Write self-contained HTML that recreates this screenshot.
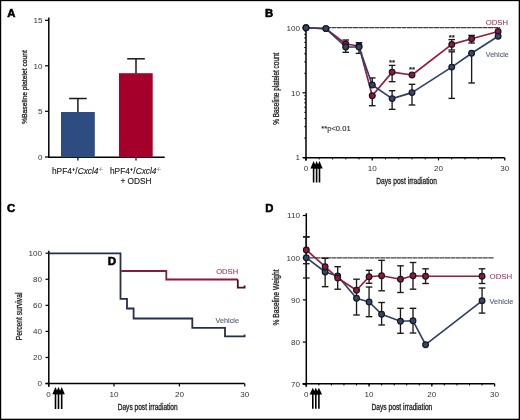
<!DOCTYPE html>
<html><head><meta charset="utf-8"><style>
html,body{margin:0;padding:0;background:#fff;}
svg{display:block;font-family:"Liberation Sans", sans-serif;will-change:transform;filter:blur(0.3px);}
</style></head><body>
<svg width="520" height="420" viewBox="0 0 520 420">
<rect width="520" height="420" fill="#fff"/>
<rect x="0" y="0" width="520" height="1.15" fill="#000"/>
<rect x="0" y="0" width="1.2" height="420" fill="#000"/>
<rect x="518.7" y="0" width="1.3" height="420" fill="#000"/>
<rect x="0" y="418.7" width="520" height="1.3" fill="#000"/>
<text x="7.30" y="16.70" font-size="11.3" text-anchor="start" fill="#000" font-weight="bold" stroke="#000" stroke-width="0.55" >A</text>
<line x1="48.80" y1="17.50" x2="48.80" y2="158.00" stroke="#000" stroke-width="1.5" />
<line x1="45.00" y1="20.30" x2="48.80" y2="20.30" stroke="#000" stroke-width="1.2" />
<text x="42.60" y="23.10" font-size="8.1" text-anchor="end" fill="#333" font-weight="normal" >15</text>
<line x1="45.00" y1="65.80" x2="48.80" y2="65.80" stroke="#000" stroke-width="1.2" />
<text x="42.60" y="68.60" font-size="8.1" text-anchor="end" fill="#333" font-weight="normal" >10</text>
<line x1="45.00" y1="111.30" x2="48.80" y2="111.30" stroke="#000" stroke-width="1.2" />
<text x="42.60" y="114.10" font-size="8.1" text-anchor="end" fill="#333" font-weight="normal" >5</text>
<line x1="45.00" y1="157.00" x2="48.80" y2="157.00" stroke="#000" stroke-width="1.2" />
<text x="42.60" y="159.80" font-size="8.1" text-anchor="end" fill="#333" font-weight="normal" >0</text>
<line x1="48.05" y1="157.30" x2="164.70" y2="157.30" stroke="#000" stroke-width="1.5" />
<line x1="77.90" y1="157.30" x2="77.90" y2="160.40" stroke="#000" stroke-width="1.2" />
<line x1="136.00" y1="157.30" x2="136.00" y2="160.40" stroke="#000" stroke-width="1.2" />
<rect x="61" y="112" width="33.8" height="45.3" fill="#2d4c80"/>
<rect x="119" y="73.2" width="33.7" height="84.1" fill="#a5002b"/>
<line x1="77.90" y1="112.00" x2="77.90" y2="98.50" stroke="#1a1a1a" stroke-width="1.5" />
<line x1="69.10" y1="98.50" x2="86.70" y2="98.50" stroke="#1a1a1a" stroke-width="1.5" />
<line x1="136.00" y1="73.20" x2="136.00" y2="58.80" stroke="#1a1a1a" stroke-width="1.5" />
<line x1="127.20" y1="58.80" x2="144.80" y2="58.80" stroke="#1a1a1a" stroke-width="1.5" />
<text x="52" y="174" font-size="8.3" fill="#222" stroke="#222" stroke-width="0.15">hPF4<tspan font-size="6" font-weight="bold" dy="-2.8">+</tspan><tspan dy="2.8">/</tspan><tspan font-style="italic">Cxcl4</tspan><tspan font-size="4.6" dy="-3.2" stroke-width="0">-/-</tspan></text>
<text x="110" y="174" font-size="8.3" fill="#222" stroke="#222" stroke-width="0.15">hPF4<tspan font-size="6" font-weight="bold" dy="-2.8">+</tspan><tspan dy="2.8">/</tspan><tspan font-style="italic">Cxcl4</tspan><tspan font-size="4.6" dy="-3.2" stroke-width="0">-/-</tspan></text>
<text x="136.00" y="184.00" font-size="8.3" text-anchor="middle" fill="#222" font-weight="normal" stroke="#222" stroke-width="0.15" >+ ODSH</text>
<text transform="translate(26.8,124) rotate(-90)" font-size="7.9" fill="#222" stroke="#222" stroke-width="0.3" textLength="74" lengthAdjust="spacingAndGlyphs">%Baseline platelet count</text>
<text x="265.00" y="16.80" font-size="11.3" text-anchor="start" fill="#000" font-weight="bold" stroke="#000" stroke-width="0.55" >B</text>
<line x1="306.00" y1="27.50" x2="306.00" y2="160.40" stroke="#000" stroke-width="1.5" />
<line x1="302.50" y1="28.00" x2="306.00" y2="28.00" stroke="#000" stroke-width="1.2" />
<line x1="302.50" y1="92.80" x2="306.00" y2="92.80" stroke="#000" stroke-width="1.2" />
<line x1="302.50" y1="157.60" x2="306.00" y2="157.60" stroke="#000" stroke-width="1.2" />
<line x1="304.20" y1="138.09" x2="306.00" y2="138.09" stroke="#000" stroke-width="0.9" />
<line x1="304.20" y1="126.68" x2="306.00" y2="126.68" stroke="#000" stroke-width="0.9" />
<line x1="304.20" y1="118.59" x2="306.00" y2="118.59" stroke="#000" stroke-width="0.9" />
<line x1="304.20" y1="112.31" x2="306.00" y2="112.31" stroke="#000" stroke-width="0.9" />
<line x1="304.20" y1="107.18" x2="306.00" y2="107.18" stroke="#000" stroke-width="0.9" />
<line x1="304.20" y1="102.84" x2="306.00" y2="102.84" stroke="#000" stroke-width="0.9" />
<line x1="304.20" y1="99.08" x2="306.00" y2="99.08" stroke="#000" stroke-width="0.9" />
<line x1="304.20" y1="95.77" x2="306.00" y2="95.77" stroke="#000" stroke-width="0.9" />
<line x1="304.20" y1="73.29" x2="306.00" y2="73.29" stroke="#000" stroke-width="0.9" />
<line x1="304.20" y1="61.88" x2="306.00" y2="61.88" stroke="#000" stroke-width="0.9" />
<line x1="304.20" y1="53.79" x2="306.00" y2="53.79" stroke="#000" stroke-width="0.9" />
<line x1="304.20" y1="47.51" x2="306.00" y2="47.51" stroke="#000" stroke-width="0.9" />
<line x1="304.20" y1="42.38" x2="306.00" y2="42.38" stroke="#000" stroke-width="0.9" />
<line x1="304.20" y1="38.04" x2="306.00" y2="38.04" stroke="#000" stroke-width="0.9" />
<line x1="304.20" y1="34.28" x2="306.00" y2="34.28" stroke="#000" stroke-width="0.9" />
<line x1="304.20" y1="30.97" x2="306.00" y2="30.97" stroke="#000" stroke-width="0.9" />
<text x="300.00" y="30.80" font-size="8.1" text-anchor="end" fill="#333" font-weight="normal" >100</text>
<text x="300.00" y="95.60" font-size="8.1" text-anchor="end" fill="#333" font-weight="normal" >10</text>
<text x="300.00" y="160.40" font-size="8.1" text-anchor="end" fill="#333" font-weight="normal" >1</text>
<line x1="303.20" y1="157.70" x2="504.60" y2="157.70" stroke="#000" stroke-width="1.5" />
<line x1="306.00" y1="157.70" x2="306.00" y2="159.40" stroke="#000" stroke-width="1.0" />
<line x1="319.25" y1="157.70" x2="319.25" y2="159.40" stroke="#000" stroke-width="1.0" />
<line x1="332.50" y1="157.70" x2="332.50" y2="159.40" stroke="#000" stroke-width="1.0" />
<line x1="345.75" y1="157.70" x2="345.75" y2="159.40" stroke="#000" stroke-width="1.0" />
<line x1="359.00" y1="157.70" x2="359.00" y2="159.40" stroke="#000" stroke-width="1.0" />
<line x1="372.25" y1="157.70" x2="372.25" y2="159.40" stroke="#000" stroke-width="1.0" />
<line x1="385.50" y1="157.70" x2="385.50" y2="159.40" stroke="#000" stroke-width="1.0" />
<line x1="398.75" y1="157.70" x2="398.75" y2="159.40" stroke="#000" stroke-width="1.0" />
<line x1="412.00" y1="157.70" x2="412.00" y2="159.40" stroke="#000" stroke-width="1.0" />
<line x1="425.25" y1="157.70" x2="425.25" y2="159.40" stroke="#000" stroke-width="1.0" />
<line x1="438.50" y1="157.70" x2="438.50" y2="159.40" stroke="#000" stroke-width="1.0" />
<line x1="451.75" y1="157.70" x2="451.75" y2="159.40" stroke="#000" stroke-width="1.0" />
<line x1="465.00" y1="157.70" x2="465.00" y2="159.40" stroke="#000" stroke-width="1.0" />
<line x1="478.25" y1="157.70" x2="478.25" y2="159.40" stroke="#000" stroke-width="1.0" />
<line x1="491.50" y1="157.70" x2="491.50" y2="159.40" stroke="#000" stroke-width="1.0" />
<line x1="504.75" y1="157.70" x2="504.75" y2="159.40" stroke="#000" stroke-width="1.0" />
<line x1="306.00" y1="157.70" x2="306.00" y2="160.40" stroke="#000" stroke-width="1.2" />
<text x="306.00" y="170.90" font-size="8.1" text-anchor="middle" fill="#333" font-weight="normal" >0</text>
<line x1="372.25" y1="157.70" x2="372.25" y2="160.40" stroke="#000" stroke-width="1.2" />
<text x="372.25" y="170.90" font-size="8.1" text-anchor="middle" fill="#333" font-weight="normal" >10</text>
<line x1="438.50" y1="157.70" x2="438.50" y2="160.40" stroke="#000" stroke-width="1.2" />
<text x="438.50" y="170.90" font-size="8.1" text-anchor="middle" fill="#333" font-weight="normal" >20</text>
<line x1="504.75" y1="157.70" x2="504.75" y2="160.40" stroke="#000" stroke-width="1.2" />
<text x="504.75" y="170.90" font-size="8.1" text-anchor="middle" fill="#333" font-weight="normal" >30</text>
<line x1="326" y1="27.6" x2="500" y2="27.6" stroke="#404040" stroke-width="1.35" stroke-dasharray="5,0.4"/>
<path d="M313.6,161 L316.8,168.6 L310.40000000000003,168.6 Z" fill="#000"/>
<line x1="313.60" y1="167.60" x2="313.60" y2="182.50" stroke="#000" stroke-width="1.6" />
<path d="M316.6,161 L319.8,168.6 L313.40000000000003,168.6 Z" fill="#000"/>
<line x1="316.60" y1="167.60" x2="316.60" y2="182.50" stroke="#000" stroke-width="1.6" />
<path d="M319.5,161 L322.7,168.6 L316.3,168.6 Z" fill="#000"/>
<line x1="319.50" y1="167.60" x2="319.50" y2="182.50" stroke="#000" stroke-width="1.6" />
<text x="376.20" y="183.50" font-size="8.4" text-anchor="start" fill="#222" font-weight="normal" textLength="60.7" lengthAdjust="spacingAndGlyphs" stroke="#222" stroke-width="0.3" >Days post irradiation</text>
<text transform="translate(279.1,124.7) rotate(-90)" font-size="8.2" fill="#222" stroke="#222" stroke-width="0.3" textLength="72" lengthAdjust="spacingAndGlyphs">% Baseline platelet count</text>
<text x="321.30" y="131.10" font-size="7.6" text-anchor="start" fill="#222" font-weight="normal" stroke="#222" stroke-width="0.1" >**p&lt;0.01</text>
<text x="485.80" y="24.90" font-size="7.9" text-anchor="start" fill="#a04468" font-weight="normal" textLength="22.2" lengthAdjust="spacingAndGlyphs" stroke="#a04468" stroke-width="0.12" >ODSH</text>
<text x="485.80" y="56.70" font-size="7.9" text-anchor="start" fill="#566078" font-weight="normal" textLength="23" lengthAdjust="spacingAndGlyphs" stroke="#566078" stroke-width="0.12" >Vehicle</text>
<line x1="345.75" y1="47.00" x2="345.75" y2="52.30" stroke="#1a1a1a" stroke-width="1.35" />
<line x1="342.45" y1="47.00" x2="349.05" y2="47.00" stroke="#1a1a1a" stroke-width="1.35" />
<line x1="342.45" y1="52.30" x2="349.05" y2="52.30" stroke="#1a1a1a" stroke-width="1.35" />
<line x1="359.00" y1="42.70" x2="359.00" y2="53.40" stroke="#1a1a1a" stroke-width="1.35" />
<line x1="355.70" y1="42.70" x2="362.30" y2="42.70" stroke="#1a1a1a" stroke-width="1.35" />
<line x1="355.70" y1="53.40" x2="362.30" y2="53.40" stroke="#1a1a1a" stroke-width="1.35" />
<line x1="372.25" y1="77.90" x2="372.25" y2="85.00" stroke="#1a1a1a" stroke-width="1.35" />
<line x1="368.95" y1="77.90" x2="375.55" y2="77.90" stroke="#1a1a1a" stroke-width="1.35" />
<line x1="368.95" y1="85.00" x2="375.55" y2="85.00" stroke="#1a1a1a" stroke-width="1.35" />
<line x1="392.12" y1="90.70" x2="392.12" y2="109.30" stroke="#1a1a1a" stroke-width="1.35" />
<line x1="388.82" y1="90.70" x2="395.43" y2="90.70" stroke="#1a1a1a" stroke-width="1.35" />
<line x1="388.82" y1="109.30" x2="395.43" y2="109.30" stroke="#1a1a1a" stroke-width="1.35" />
<line x1="412.00" y1="84.30" x2="412.00" y2="105.00" stroke="#1a1a1a" stroke-width="1.35" />
<line x1="408.70" y1="84.30" x2="415.30" y2="84.30" stroke="#1a1a1a" stroke-width="1.35" />
<line x1="408.70" y1="105.00" x2="415.30" y2="105.00" stroke="#1a1a1a" stroke-width="1.35" />
<line x1="451.75" y1="51.80" x2="451.75" y2="98.40" stroke="#1a1a1a" stroke-width="1.35" />
<line x1="448.45" y1="51.80" x2="455.05" y2="51.80" stroke="#1a1a1a" stroke-width="1.35" />
<line x1="448.45" y1="98.40" x2="455.05" y2="98.40" stroke="#1a1a1a" stroke-width="1.35" />
<line x1="471.62" y1="53.30" x2="471.62" y2="83.00" stroke="#1a1a1a" stroke-width="1.35" />
<line x1="468.32" y1="53.30" x2="474.93" y2="53.30" stroke="#1a1a1a" stroke-width="1.35" />
<line x1="468.32" y1="83.00" x2="474.93" y2="83.00" stroke="#1a1a1a" stroke-width="1.35" />
<line x1="345.75" y1="40.00" x2="345.75" y2="44.00" stroke="#1a1a1a" stroke-width="1.35" />
<line x1="342.45" y1="40.00" x2="349.05" y2="40.00" stroke="#1a1a1a" stroke-width="1.35" />
<line x1="342.45" y1="44.00" x2="349.05" y2="44.00" stroke="#1a1a1a" stroke-width="1.35" />
<line x1="372.25" y1="95.70" x2="372.25" y2="105.70" stroke="#1a1a1a" stroke-width="1.35" />
<line x1="368.95" y1="95.70" x2="375.55" y2="95.70" stroke="#1a1a1a" stroke-width="1.35" />
<line x1="368.95" y1="105.70" x2="375.55" y2="105.70" stroke="#1a1a1a" stroke-width="1.35" />
<line x1="392.12" y1="65.40" x2="392.12" y2="81.70" stroke="#1a1a1a" stroke-width="1.35" />
<line x1="388.82" y1="65.40" x2="395.43" y2="65.40" stroke="#1a1a1a" stroke-width="1.35" />
<line x1="388.82" y1="81.70" x2="395.43" y2="81.70" stroke="#1a1a1a" stroke-width="1.35" />
<line x1="451.75" y1="39.60" x2="451.75" y2="50.00" stroke="#1a1a1a" stroke-width="1.35" />
<line x1="448.45" y1="39.60" x2="455.05" y2="39.60" stroke="#1a1a1a" stroke-width="1.35" />
<line x1="448.45" y1="50.00" x2="455.05" y2="50.00" stroke="#1a1a1a" stroke-width="1.35" />
<line x1="471.62" y1="35.40" x2="471.62" y2="43.00" stroke="#1a1a1a" stroke-width="1.35" />
<line x1="468.32" y1="35.40" x2="474.93" y2="35.40" stroke="#1a1a1a" stroke-width="1.35" />
<line x1="468.32" y1="43.00" x2="474.93" y2="43.00" stroke="#1a1a1a" stroke-width="1.35" />
<polyline points="306.00,27.70 325.88,28.60 345.75,44.00 359.00,46.00 372.25,95.70 392.12,72.10 412.00,75.00 451.75,44.40 471.62,38.80 498.12,31.50" fill="none" stroke="#961a3c" stroke-width="1.65" stroke-linejoin="round"/>
<polyline points="306.00,27.70 325.88,28.60 345.75,47.00 359.00,47.00 372.25,85.00 392.12,98.60 412.00,92.60 451.75,67.10 471.62,53.30 498.12,36.20" fill="none" stroke="#2c4068" stroke-width="1.65" stroke-linejoin="round"/>
<circle cx="306.00" cy="27.70" r="2.85" fill="#921838" stroke="#16161e" stroke-width="1.2"/>
<circle cx="325.88" cy="28.60" r="2.85" fill="#921838" stroke="#16161e" stroke-width="1.2"/>
<circle cx="345.75" cy="44.00" r="2.85" fill="#921838" stroke="#16161e" stroke-width="1.2"/>
<circle cx="359.00" cy="46.00" r="2.85" fill="#921838" stroke="#16161e" stroke-width="1.2"/>
<circle cx="372.25" cy="95.70" r="2.85" fill="#921838" stroke="#16161e" stroke-width="1.2"/>
<circle cx="392.12" cy="72.10" r="2.85" fill="#921838" stroke="#16161e" stroke-width="1.2"/>
<circle cx="412.00" cy="75.00" r="2.85" fill="#921838" stroke="#16161e" stroke-width="1.2"/>
<circle cx="451.75" cy="44.40" r="2.85" fill="#921838" stroke="#16161e" stroke-width="1.2"/>
<circle cx="471.62" cy="38.80" r="2.85" fill="#921838" stroke="#16161e" stroke-width="1.2"/>
<circle cx="498.12" cy="31.50" r="2.85" fill="#921838" stroke="#16161e" stroke-width="1.2"/>
<circle cx="306.00" cy="27.70" r="2.85" fill="#34466a" stroke="#16161e" stroke-width="1.2"/>
<circle cx="325.88" cy="28.60" r="2.85" fill="#34466a" stroke="#16161e" stroke-width="1.2"/>
<circle cx="345.75" cy="47.00" r="2.85" fill="#34466a" stroke="#16161e" stroke-width="1.2"/>
<circle cx="359.00" cy="47.00" r="2.85" fill="#34466a" stroke="#16161e" stroke-width="1.2"/>
<circle cx="372.25" cy="85.00" r="2.85" fill="#34466a" stroke="#16161e" stroke-width="1.2"/>
<circle cx="392.12" cy="98.60" r="2.85" fill="#34466a" stroke="#16161e" stroke-width="1.2"/>
<circle cx="412.00" cy="92.60" r="2.85" fill="#34466a" stroke="#16161e" stroke-width="1.2"/>
<circle cx="451.75" cy="67.10" r="2.85" fill="#34466a" stroke="#16161e" stroke-width="1.2"/>
<circle cx="471.62" cy="53.30" r="2.85" fill="#34466a" stroke="#16161e" stroke-width="1.2"/>
<circle cx="498.12" cy="36.20" r="2.85" fill="#34466a" stroke="#16161e" stroke-width="1.2"/>
<text x="392.12" y="65.10" font-size="8" text-anchor="middle" fill="#111" font-weight="normal" stroke="#111" stroke-width="0.2" >**</text>
<text x="412.00" y="71.90" font-size="8" text-anchor="middle" fill="#111" font-weight="normal" stroke="#111" stroke-width="0.2" >**</text>
<text x="451.75" y="39.60" font-size="8" text-anchor="middle" fill="#111" font-weight="normal" stroke="#111" stroke-width="0.2" >**</text>
<text x="7.00" y="212.30" font-size="11.3" text-anchor="start" fill="#000" font-weight="bold" stroke="#000" stroke-width="0.55" >C</text>
<line x1="48.80" y1="250.80" x2="48.80" y2="386.70" stroke="#000" stroke-width="1.5" />
<line x1="45.50" y1="253.20" x2="48.80" y2="253.20" stroke="#000" stroke-width="1.2" />
<text x="42.00" y="256.00" font-size="8.1" text-anchor="end" fill="#333" font-weight="normal" >100</text>
<line x1="45.50" y1="279.26" x2="48.80" y2="279.26" stroke="#000" stroke-width="1.2" />
<text x="42.00" y="282.06" font-size="8.1" text-anchor="end" fill="#333" font-weight="normal" >80</text>
<line x1="45.50" y1="305.33" x2="48.80" y2="305.33" stroke="#000" stroke-width="1.2" />
<text x="42.00" y="308.13" font-size="8.1" text-anchor="end" fill="#333" font-weight="normal" >60</text>
<line x1="45.50" y1="331.39" x2="48.80" y2="331.39" stroke="#000" stroke-width="1.2" />
<text x="42.00" y="334.19" font-size="8.1" text-anchor="end" fill="#333" font-weight="normal" >40</text>
<line x1="45.50" y1="357.46" x2="48.80" y2="357.46" stroke="#000" stroke-width="1.2" />
<text x="42.00" y="360.26" font-size="8.1" text-anchor="end" fill="#333" font-weight="normal" >20</text>
<line x1="45.50" y1="383.52" x2="48.80" y2="383.52" stroke="#000" stroke-width="1.2" />
<text x="42.00" y="386.32" font-size="8.1" text-anchor="end" fill="#333" font-weight="normal" >0</text>
<line x1="45.50" y1="383.60" x2="244.60" y2="383.60" stroke="#000" stroke-width="1.5" />
<line x1="48.60" y1="383.60" x2="48.60" y2="386.50" stroke="#000" stroke-width="1.2" />
<text x="48.60" y="397.00" font-size="8.1" text-anchor="middle" fill="#333" font-weight="normal" >0</text>
<line x1="114.00" y1="383.60" x2="114.00" y2="386.50" stroke="#000" stroke-width="1.2" />
<text x="114.00" y="397.00" font-size="8.1" text-anchor="middle" fill="#333" font-weight="normal" >10</text>
<line x1="179.40" y1="383.60" x2="179.40" y2="386.50" stroke="#000" stroke-width="1.2" />
<text x="179.40" y="397.00" font-size="8.1" text-anchor="middle" fill="#333" font-weight="normal" >20</text>
<line x1="244.80" y1="383.60" x2="244.80" y2="386.50" stroke="#000" stroke-width="1.2" />
<text x="244.80" y="397.00" font-size="8.1" text-anchor="middle" fill="#333" font-weight="normal" >30</text>
<path d="M121.3,271 H166.3 V279.5 H237.8" fill="none" stroke="#8a1840" stroke-width="1.8"/>
<path d="M237.8,279.5 V287.7 H244.6 V285.4" fill="none" stroke="#4a1428" stroke-width="1.8"/>
<path d="M48.8,253.4 H120.5 V298.9 H127 V308.5 H133.6 V318.5 H192.3 V327.8 H225 V336.4 H244.6 V334.4" fill="none" stroke="#23304c" stroke-width="1.8"/>
<text x="107.80" y="265.10" font-size="11.6" text-anchor="start" fill="#000" font-weight="bold" stroke="#000" stroke-width="0.55" >D</text>
<text x="216.20" y="273.80" font-size="7.6" text-anchor="start" fill="#a04468" font-weight="normal" textLength="22" lengthAdjust="spacingAndGlyphs" stroke="#a04468" stroke-width="0.12" >ODSH</text>
<text x="215.60" y="322.70" font-size="7.8" text-anchor="start" fill="#566078" font-weight="normal" textLength="23.4" lengthAdjust="spacingAndGlyphs" stroke="#566078" stroke-width="0.12" >Vehicle</text>
<path d="M55.5,387.1 L58.7,394.3 L52.3,394.3 Z" fill="#000"/>
<line x1="55.50" y1="393.30" x2="55.50" y2="409.00" stroke="#000" stroke-width="1.6" />
<path d="M58.5,387.1 L61.7,394.3 L55.3,394.3 Z" fill="#000"/>
<line x1="58.50" y1="393.30" x2="58.50" y2="409.00" stroke="#000" stroke-width="1.6" />
<path d="M61.7,387.1 L64.9,394.3 L58.5,394.3 Z" fill="#000"/>
<line x1="61.70" y1="393.30" x2="61.70" y2="409.00" stroke="#000" stroke-width="1.6" />
<text x="117.70" y="410.40" font-size="8.4" text-anchor="start" fill="#222" font-weight="normal" textLength="60" lengthAdjust="spacingAndGlyphs" stroke="#222" stroke-width="0.3" >Days post irradiation</text>
<text transform="translate(21.9,340.2) rotate(-90)" font-size="8.6" fill="#222" stroke="#222" stroke-width="0.3" textLength="47.6" lengthAdjust="spacingAndGlyphs">Percent survival</text>
<text x="265.20" y="212.10" font-size="11.3" text-anchor="start" fill="#000" font-weight="bold" stroke="#000" stroke-width="0.55" >D</text>
<line x1="306.30" y1="213.20" x2="306.30" y2="386.70" stroke="#000" stroke-width="1.5" />
<line x1="302.80" y1="215.50" x2="306.30" y2="215.50" stroke="#000" stroke-width="1.2" />
<text x="300.00" y="218.30" font-size="8.1" text-anchor="end" fill="#333" font-weight="normal" >110</text>
<line x1="302.80" y1="257.70" x2="306.30" y2="257.70" stroke="#000" stroke-width="1.2" />
<text x="300.00" y="260.50" font-size="8.1" text-anchor="end" fill="#333" font-weight="normal" >100</text>
<line x1="302.80" y1="299.90" x2="306.30" y2="299.90" stroke="#000" stroke-width="1.2" />
<text x="300.00" y="302.70" font-size="8.1" text-anchor="end" fill="#333" font-weight="normal" >90</text>
<line x1="302.80" y1="342.10" x2="306.30" y2="342.10" stroke="#000" stroke-width="1.2" />
<text x="300.00" y="344.90" font-size="8.1" text-anchor="end" fill="#333" font-weight="normal" >80</text>
<line x1="302.80" y1="384.30" x2="306.30" y2="384.30" stroke="#000" stroke-width="1.2" />
<text x="300.00" y="387.10" font-size="8.1" text-anchor="end" fill="#333" font-weight="normal" >70</text>
<line x1="302.50" y1="383.80" x2="494.60" y2="383.80" stroke="#000" stroke-width="1.5" />
<line x1="306.30" y1="383.80" x2="306.30" y2="385.50" stroke="#000" stroke-width="1.0" />
<line x1="318.85" y1="383.80" x2="318.85" y2="385.50" stroke="#000" stroke-width="1.0" />
<line x1="331.41" y1="383.80" x2="331.41" y2="385.50" stroke="#000" stroke-width="1.0" />
<line x1="343.96" y1="383.80" x2="343.96" y2="385.50" stroke="#000" stroke-width="1.0" />
<line x1="356.52" y1="383.80" x2="356.52" y2="385.50" stroke="#000" stroke-width="1.0" />
<line x1="369.07" y1="383.80" x2="369.07" y2="385.50" stroke="#000" stroke-width="1.0" />
<line x1="381.62" y1="383.80" x2="381.62" y2="385.50" stroke="#000" stroke-width="1.0" />
<line x1="394.18" y1="383.80" x2="394.18" y2="385.50" stroke="#000" stroke-width="1.0" />
<line x1="406.73" y1="383.80" x2="406.73" y2="385.50" stroke="#000" stroke-width="1.0" />
<line x1="419.29" y1="383.80" x2="419.29" y2="385.50" stroke="#000" stroke-width="1.0" />
<line x1="431.84" y1="383.80" x2="431.84" y2="385.50" stroke="#000" stroke-width="1.0" />
<line x1="444.39" y1="383.80" x2="444.39" y2="385.50" stroke="#000" stroke-width="1.0" />
<line x1="456.95" y1="383.80" x2="456.95" y2="385.50" stroke="#000" stroke-width="1.0" />
<line x1="469.50" y1="383.80" x2="469.50" y2="385.50" stroke="#000" stroke-width="1.0" />
<line x1="482.06" y1="383.80" x2="482.06" y2="385.50" stroke="#000" stroke-width="1.0" />
<line x1="494.61" y1="383.80" x2="494.61" y2="385.50" stroke="#000" stroke-width="1.0" />
<line x1="306.30" y1="383.80" x2="306.30" y2="386.60" stroke="#000" stroke-width="1.2" />
<text x="306.30" y="397.00" font-size="8.1" text-anchor="middle" fill="#333" font-weight="normal" >0</text>
<line x1="369.07" y1="383.80" x2="369.07" y2="386.60" stroke="#000" stroke-width="1.2" />
<text x="369.07" y="397.00" font-size="8.1" text-anchor="middle" fill="#333" font-weight="normal" >10</text>
<line x1="431.84" y1="383.80" x2="431.84" y2="386.60" stroke="#000" stroke-width="1.2" />
<text x="431.84" y="397.00" font-size="8.1" text-anchor="middle" fill="#333" font-weight="normal" >20</text>
<line x1="494.61" y1="383.80" x2="494.61" y2="386.60" stroke="#000" stroke-width="1.2" />
<text x="494.61" y="397.00" font-size="8.1" text-anchor="middle" fill="#333" font-weight="normal" >30</text>
<line x1="310" y1="257.8" x2="494" y2="257.8" stroke="#404040" stroke-width="1.35" stroke-dasharray="5,0.4"/>
<path d="M312.8,387.7 L316.0,394.6 L309.6,394.6 Z" fill="#000"/>
<line x1="312.80" y1="393.60" x2="312.80" y2="408.80" stroke="#000" stroke-width="1.6" />
<path d="M315.8,387.7 L319.0,394.6 L312.6,394.6 Z" fill="#000"/>
<line x1="315.80" y1="393.60" x2="315.80" y2="408.80" stroke="#000" stroke-width="1.6" />
<path d="M318.9,387.7 L322.09999999999997,394.6 L315.7,394.6 Z" fill="#000"/>
<line x1="318.90" y1="393.60" x2="318.90" y2="408.80" stroke="#000" stroke-width="1.6" />
<text x="371.50" y="410.40" font-size="8.4" text-anchor="start" fill="#222" font-weight="normal" textLength="60.8" lengthAdjust="spacingAndGlyphs" stroke="#222" stroke-width="0.3" >Days post irradiation</text>
<text transform="translate(278.9,325.5) rotate(-90)" font-size="8.4" fill="#222" stroke="#222" stroke-width="0.3" textLength="56.2" lengthAdjust="spacingAndGlyphs">% Baseline Weight</text>
<line x1="306.30" y1="237.00" x2="306.30" y2="278.00" stroke="#1a1a1a" stroke-width="1.35" />
<line x1="303.00" y1="237.00" x2="309.60" y2="237.00" stroke="#1a1a1a" stroke-width="1.35" />
<line x1="303.00" y1="278.00" x2="309.60" y2="278.00" stroke="#1a1a1a" stroke-width="1.35" />
<line x1="325.13" y1="258.30" x2="325.13" y2="286.70" stroke="#1a1a1a" stroke-width="1.35" />
<line x1="321.83" y1="258.30" x2="328.43" y2="258.30" stroke="#1a1a1a" stroke-width="1.35" />
<line x1="321.83" y1="286.70" x2="328.43" y2="286.70" stroke="#1a1a1a" stroke-width="1.35" />
<line x1="337.69" y1="266.70" x2="337.69" y2="289.20" stroke="#1a1a1a" stroke-width="1.35" />
<line x1="334.38" y1="266.70" x2="340.99" y2="266.70" stroke="#1a1a1a" stroke-width="1.35" />
<line x1="334.38" y1="289.20" x2="340.99" y2="289.20" stroke="#1a1a1a" stroke-width="1.35" />
<line x1="356.52" y1="290.00" x2="356.52" y2="315.00" stroke="#1a1a1a" stroke-width="1.35" />
<line x1="353.22" y1="290.00" x2="359.82" y2="290.00" stroke="#1a1a1a" stroke-width="1.35" />
<line x1="353.22" y1="315.00" x2="359.82" y2="315.00" stroke="#1a1a1a" stroke-width="1.35" />
<line x1="369.07" y1="287.00" x2="369.07" y2="316.70" stroke="#1a1a1a" stroke-width="1.35" />
<line x1="365.77" y1="287.00" x2="372.37" y2="287.00" stroke="#1a1a1a" stroke-width="1.35" />
<line x1="365.77" y1="316.70" x2="372.37" y2="316.70" stroke="#1a1a1a" stroke-width="1.35" />
<line x1="381.62" y1="302.50" x2="381.62" y2="325.00" stroke="#1a1a1a" stroke-width="1.35" />
<line x1="378.32" y1="302.50" x2="384.92" y2="302.50" stroke="#1a1a1a" stroke-width="1.35" />
<line x1="378.32" y1="325.00" x2="384.92" y2="325.00" stroke="#1a1a1a" stroke-width="1.35" />
<line x1="400.46" y1="308.30" x2="400.46" y2="333.30" stroke="#1a1a1a" stroke-width="1.35" />
<line x1="397.16" y1="308.30" x2="403.76" y2="308.30" stroke="#1a1a1a" stroke-width="1.35" />
<line x1="397.16" y1="333.30" x2="403.76" y2="333.30" stroke="#1a1a1a" stroke-width="1.35" />
<line x1="413.01" y1="308.30" x2="413.01" y2="333.00" stroke="#1a1a1a" stroke-width="1.35" />
<line x1="409.71" y1="308.30" x2="416.31" y2="308.30" stroke="#1a1a1a" stroke-width="1.35" />
<line x1="409.71" y1="333.00" x2="416.31" y2="333.00" stroke="#1a1a1a" stroke-width="1.35" />
<line x1="482.06" y1="288.00" x2="482.06" y2="313.10" stroke="#1a1a1a" stroke-width="1.35" />
<line x1="478.76" y1="288.00" x2="485.36" y2="288.00" stroke="#1a1a1a" stroke-width="1.35" />
<line x1="478.76" y1="313.10" x2="485.36" y2="313.10" stroke="#1a1a1a" stroke-width="1.35" />
<line x1="306.30" y1="236.70" x2="306.30" y2="263.70" stroke="#1a1a1a" stroke-width="1.35" />
<line x1="303.00" y1="236.70" x2="309.60" y2="236.70" stroke="#1a1a1a" stroke-width="1.35" />
<line x1="303.00" y1="263.70" x2="309.60" y2="263.70" stroke="#1a1a1a" stroke-width="1.35" />
<line x1="356.52" y1="279.20" x2="356.52" y2="290.00" stroke="#1a1a1a" stroke-width="1.35" />
<line x1="353.22" y1="279.20" x2="359.82" y2="279.20" stroke="#1a1a1a" stroke-width="1.35" />
<line x1="353.22" y1="290.00" x2="359.82" y2="290.00" stroke="#1a1a1a" stroke-width="1.35" />
<line x1="369.07" y1="270.30" x2="369.07" y2="283.30" stroke="#1a1a1a" stroke-width="1.35" />
<line x1="365.77" y1="270.30" x2="372.37" y2="270.30" stroke="#1a1a1a" stroke-width="1.35" />
<line x1="365.77" y1="283.30" x2="372.37" y2="283.30" stroke="#1a1a1a" stroke-width="1.35" />
<line x1="381.62" y1="260.30" x2="381.62" y2="290.80" stroke="#1a1a1a" stroke-width="1.35" />
<line x1="378.32" y1="260.30" x2="384.92" y2="260.30" stroke="#1a1a1a" stroke-width="1.35" />
<line x1="378.32" y1="290.80" x2="384.92" y2="290.80" stroke="#1a1a1a" stroke-width="1.35" />
<line x1="400.46" y1="265.80" x2="400.46" y2="292.50" stroke="#1a1a1a" stroke-width="1.35" />
<line x1="397.16" y1="265.80" x2="403.76" y2="265.80" stroke="#1a1a1a" stroke-width="1.35" />
<line x1="397.16" y1="292.50" x2="403.76" y2="292.50" stroke="#1a1a1a" stroke-width="1.35" />
<line x1="413.01" y1="262.50" x2="413.01" y2="289.20" stroke="#1a1a1a" stroke-width="1.35" />
<line x1="409.71" y1="262.50" x2="416.31" y2="262.50" stroke="#1a1a1a" stroke-width="1.35" />
<line x1="409.71" y1="289.20" x2="416.31" y2="289.20" stroke="#1a1a1a" stroke-width="1.35" />
<line x1="425.56" y1="268.80" x2="425.56" y2="283.50" stroke="#1a1a1a" stroke-width="1.35" />
<line x1="422.26" y1="268.80" x2="428.86" y2="268.80" stroke="#1a1a1a" stroke-width="1.35" />
<line x1="422.26" y1="283.50" x2="428.86" y2="283.50" stroke="#1a1a1a" stroke-width="1.35" />
<line x1="482.06" y1="268.80" x2="482.06" y2="283.50" stroke="#1a1a1a" stroke-width="1.35" />
<line x1="478.76" y1="268.80" x2="485.36" y2="268.80" stroke="#1a1a1a" stroke-width="1.35" />
<line x1="478.76" y1="283.50" x2="485.36" y2="283.50" stroke="#1a1a1a" stroke-width="1.35" />
<polyline points="306.30,257.70 325.13,272.00 337.69,276.00 356.52,298.20 369.07,302.00 381.62,314.20 400.46,321.20 413.01,320.80 425.56,344.70 482.06,300.80" fill="none" stroke="#2c4068" stroke-width="1.65" stroke-linejoin="round"/>
<polyline points="306.30,249.90 325.13,266.70 337.69,278.00 356.52,290.20 369.07,276.70 381.62,275.80 400.46,279.20 413.01,275.80 425.56,276.20 482.06,276.20" fill="none" stroke="#961a3c" stroke-width="1.65" stroke-linejoin="round"/>
<circle cx="306.30" cy="257.70" r="2.85" fill="#34466a" stroke="#16161e" stroke-width="1.2"/>
<circle cx="325.13" cy="272.00" r="2.85" fill="#34466a" stroke="#16161e" stroke-width="1.2"/>
<circle cx="337.69" cy="276.00" r="2.85" fill="#34466a" stroke="#16161e" stroke-width="1.2"/>
<circle cx="356.52" cy="298.20" r="2.85" fill="#34466a" stroke="#16161e" stroke-width="1.2"/>
<circle cx="369.07" cy="302.00" r="2.85" fill="#34466a" stroke="#16161e" stroke-width="1.2"/>
<circle cx="381.62" cy="314.20" r="2.85" fill="#34466a" stroke="#16161e" stroke-width="1.2"/>
<circle cx="400.46" cy="321.20" r="2.85" fill="#34466a" stroke="#16161e" stroke-width="1.2"/>
<circle cx="413.01" cy="320.80" r="2.85" fill="#34466a" stroke="#16161e" stroke-width="1.2"/>
<circle cx="425.56" cy="344.70" r="2.85" fill="#34466a" stroke="#16161e" stroke-width="1.2"/>
<circle cx="482.06" cy="300.80" r="2.85" fill="#34466a" stroke="#16161e" stroke-width="1.2"/>
<circle cx="306.30" cy="249.90" r="2.85" fill="#921838" stroke="#16161e" stroke-width="1.2"/>
<circle cx="325.13" cy="266.70" r="2.85" fill="#921838" stroke="#16161e" stroke-width="1.2"/>
<circle cx="337.69" cy="278.00" r="2.85" fill="#921838" stroke="#16161e" stroke-width="1.2"/>
<circle cx="356.52" cy="290.20" r="2.85" fill="#921838" stroke="#16161e" stroke-width="1.2"/>
<circle cx="369.07" cy="276.70" r="2.85" fill="#921838" stroke="#16161e" stroke-width="1.2"/>
<circle cx="381.62" cy="275.80" r="2.85" fill="#921838" stroke="#16161e" stroke-width="1.2"/>
<circle cx="400.46" cy="279.20" r="2.85" fill="#921838" stroke="#16161e" stroke-width="1.2"/>
<circle cx="413.01" cy="275.80" r="2.85" fill="#921838" stroke="#16161e" stroke-width="1.2"/>
<circle cx="425.56" cy="276.20" r="2.85" fill="#921838" stroke="#16161e" stroke-width="1.2"/>
<circle cx="482.06" cy="276.20" r="2.85" fill="#921838" stroke="#16161e" stroke-width="1.2"/>
<text x="489.60" y="279.00" font-size="7.9" text-anchor="start" fill="#a04468" font-weight="normal" textLength="22.7" lengthAdjust="spacingAndGlyphs" stroke="#a04468" stroke-width="0.12" >ODSH</text>
<text x="489.60" y="304.00" font-size="7.9" text-anchor="start" fill="#566078" font-weight="normal" textLength="23.7" lengthAdjust="spacingAndGlyphs" stroke="#566078" stroke-width="0.12" >Vehicle</text>
</svg>
</body></html>
